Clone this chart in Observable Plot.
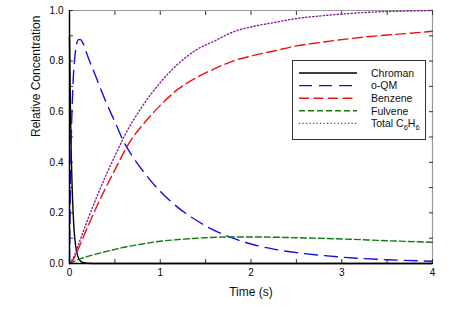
<!DOCTYPE html>
<html>
<head>
<meta charset="utf-8">
<script src="https://cdn.jsdelivr.net/npm/d3@7"></script>
<script src="https://cdn.jsdelivr.net/npm/@observablehq/plot@0.6"></script>
<style>
  html, body { margin: 0; padding: 0; background: #fff; }
  svg { font-family: "Liberation Sans", Arial, sans-serif; }
</style>
</head>
<body>
<div id="chart"></div>
<script>
// ---- data ----
const chromanT = [0, 0.01, 0.02, 0.03, 0.04, 0.05, 0.06, 0.08, 0.1, 0.12, 0.15, 0.2, 0.3, 0.5, 1, 2, 3, 4];
const chromanV = [0.9, 0.62, 0.42, 0.29, 0.2, 0.135, 0.093, 0.045, 0.021, 0.01, 0.004, 0.001, 0, 0, 0, 0, 0, 0];

const oqmT = [0, 0.005, 0.01, 0.02, 0.03, 0.04, 0.06, 0.08, 0.1, 0.12, 0.15, 0.2, 0.3, 0.4, 0.5, 0.6, 0.7, 0.8, 1.0, 1.2, 1.4, 1.6, 1.8, 2.0, 2.25, 2.5, 2.75, 3.0, 3.5, 4.0];
const oqmV = [0, 0.16, 0.3, 0.5, 0.63, 0.72, 0.82, 0.87, 0.885, 0.885, 0.87, 0.82, 0.73, 0.64, 0.56, 0.48, 0.42, 0.37, 0.285, 0.22, 0.17, 0.13, 0.1, 0.077, 0.057, 0.043, 0.033, 0.025, 0.015, 0.009];

const benzeneT = [0, 0.05, 0.1, 0.2, 0.3, 0.4, 0.5, 0.6, 0.7, 0.8, 1.0, 1.2, 1.4, 1.6, 1.8, 2.0, 2.25, 2.5, 2.75, 3.0, 3.25, 3.5, 3.75, 4.0];
const benzeneV = [0, 0.02, 0.06, 0.145, 0.225, 0.3, 0.37, 0.44, 0.5, 0.545, 0.625, 0.69, 0.735, 0.77, 0.8, 0.82, 0.84, 0.86, 0.873, 0.885, 0.895, 0.903, 0.91, 0.918];

const fulveneT = [0, 0.05, 0.1, 0.2, 0.3, 0.4, 0.6, 0.8, 1.0, 1.25, 1.5, 1.75, 2.0, 2.5, 3.0, 3.5, 4.0];
const fulveneV = [0, 0.008, 0.016, 0.028, 0.038, 0.047, 0.064, 0.077, 0.088, 0.096, 0.102, 0.105, 0.105, 0.102, 0.097, 0.09, 0.084];

const totalT = [0, 0.05, 0.1, 0.2, 0.3, 0.4, 0.5, 0.6, 0.8, 1.0, 1.2, 1.4, 1.6, 1.8, 2.0, 2.25, 2.5, 2.75, 3.0, 3.25, 3.5, 3.75, 4.0];
const totalV = [0, 0.028, 0.076, 0.173, 0.263, 0.347, 0.425, 0.5, 0.62, 0.715, 0.79, 0.845, 0.88, 0.915, 0.935, 0.952, 0.968, 0.978, 0.986, 0.992, 0.996, 0.998, 1.0];

const seriesNames = ["Chroman", "o-QM", "Benzene", "Fulvene", "Total C6H6"];
const xTicks = [0, 1, 2, 3, 4];
const yTicks = [0, 0.2, 0.4, 0.6, 0.8, 1.0];
const xMinorTicks = [0, 0.5, 1, 1.5, 2, 2.5, 3, 3.5, 4];
const yMinorTicks = [0, 0.1, 0.2, 0.3, 0.4, 0.5, 0.6, 0.7, 0.8, 0.9, 1.0];
const xLabel = "Time (s)";
const yLabel = "Relative Concentration";

// ---- styles ----
const styles = [
  {stroke: "#000000", dash: null, width: 1.4},
  {stroke: "#1010e0", dash: "13,7", width: 1.4},
  {stroke: "#ee1111", dash: "10,4.5", width: 1.4},
  {stroke: "#117a11", dash: "6,3", width: 1.4},
  {stroke: "#8a1a9a", dash: "1.2,2.3", width: 1.4}
];

const zip = (ts, vs) => ts.map((t, i) => ({t, v: vs[i]}));
const datasets = [
  zip(chromanT, chromanV),
  zip(oqmT, oqmV),
  zip(benzeneT, benzeneV),
  zip(fulveneT, fulveneV),
  zip(totalT, totalV)
];

const lineMarks = datasets.map((d, i) => Plot.line(d, {
  x: "t", y: "v",
  stroke: styles[i].stroke,
  strokeWidth: styles[i].width,
  strokeDasharray: styles[i].dash,
  curve: "monotone-x"
}));

const chart = Plot.plot({
  width: 459,
  height: 310,
  marginLeft: 69,
  marginRight: 27,
  marginTop: 10,
  marginBottom: 47,
  style: {fontFamily: "'Liberation Sans', Arial, sans-serif", fontSize: "10px", background: "#fff"},
  x: {domain: [0, 4]},
  y: {domain: [0, 1]},
  marks: [
    // frame
    Plot.ruleX([4], {stroke: "#999", strokeWidth: 1.2}),
    Plot.ruleY([1], {stroke: "#999", strokeWidth: 1.2}),
    // minor inward ticks
    Plot.axisX({ticks: xMinorTicks, tickSize: -4, text: null, label: null, stroke: "#333"}),
    Plot.axisX({anchor: "top", ticks: xMinorTicks, tickSize: -4, text: null, label: null, stroke: "#333"}),
    Plot.axisY({ticks: yMinorTicks, tickSize: -4, text: null, label: null, stroke: "#333"}),
    Plot.axisY({anchor: "right", ticks: yMinorTicks, tickSize: -4, text: null, label: null, stroke: "#333"}),
    // tick labels
    Plot.axisX({ticks: xTicks, tickSize: 0, tickPadding: 5, tickFormat: d3.format("d"), label: null, fontSize: 10}),
    Plot.axisY({ticks: yTicks, tickSize: 0, tickPadding: 6, tickFormat: d3.format(".1f"), label: null, fontSize: 10}),
    // axis titles
    Plot.text([xLabel], {frameAnchor: "bottom", dy: 32, fontSize: 12, fill: "#111"}),
    Plot.text([yLabel], {frameAnchor: "left", rotate: -90, dx: -33, fontSize: 12, fill: "#111"}),
    ...lineMarks,
    // left & bottom axis lines
    Plot.ruleX([0], {stroke: "#000", strokeWidth: 1.5}),
    Plot.ruleY([0], {stroke: "#000", strokeWidth: 1.5})
  ]
});

document.getElementById("chart").appendChild(chart);

// ---- legend inside plot area ----
const svg = d3.select(chart);
const lg = svg.append("g")
  .attr("font-family", "'Liberation Sans', Arial, sans-serif")
  .attr("font-size", "10.5px")
  .attr("text-anchor", "start");
lg.append("rect").attr("x", 292.5).attr("y", 60.5).attr("width", 133).attr("height", 79)
  .attr("fill", "#fff").attr("stroke", "#333").attr("stroke-width", 1);
seriesNames.forEach((name, i) => {
  const y = 73 + i * 12.6;
  lg.append("line").attr("x1", 299).attr("x2", 357).attr("y1", y).attr("y2", y)
    .attr("stroke", styles[i].stroke).attr("stroke-width", styles[i].width)
    .attr("stroke-dasharray", styles[i].dash);
  const t = lg.append("text").attr("x", 371).attr("y", y).attr("dy", "0.36em")
    .attr("fill", "#111").attr("text-anchor", "start");
  if (name === "Total C6H6") {
    t.append("tspan").text("Total C");
    t.append("tspan").attr("dy", 3).attr("font-size", "7.5px").text("6");
    t.append("tspan").attr("dy", -3).text("H");
    t.append("tspan").attr("dy", 3).attr("font-size", "7.5px").text("6");
  } else {
    t.text(name);
  }
});
</script>
</body>
</html>
